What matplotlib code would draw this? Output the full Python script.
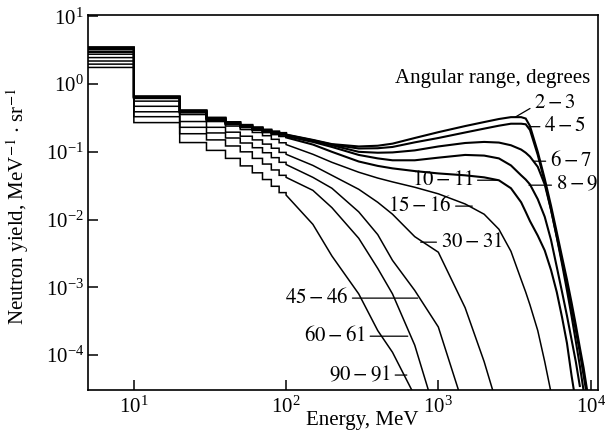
import numpy as np
import matplotlib
matplotlib.use("Agg")
import matplotlib.pyplot as plt
from matplotlib.ticker import NullLocator

plt.rcParams["font.family"] = ["Liberation Serif", "DejaVu Serif"]
plt.rcParams["mathtext.fontset"] = "stix"
plt.rcParams["font.size"] = 15

# угловые диапазоны, градусы
angles = ["2-3", "4-5", "6-7", "8-9", "10-11", "15-16", "30-31", "45-46", "60-61", "90-91"]

# низкие энергии: гистограмма с бинами по 10 МэВ
bin_edges = [4, 10, 20, 30, 40, 50, 60, 70, 80, 90, 100]
low_2_3 = [3.5, 0.66, 0.41, 0.32, 0.275, 0.25, 0.23, 0.213, 0.2, 0.19]
low_4_5 = [3.45, 0.65, 0.405, 0.315, 0.272, 0.246, 0.227, 0.21, 0.197, 0.187]
low_6_7 = [3.35, 0.645, 0.4, 0.31, 0.268, 0.243, 0.224, 0.207, 0.194, 0.184]
low_8_9 = [3.24, 0.635, 0.39, 0.305, 0.262, 0.238, 0.218, 0.202, 0.189, 0.179]
low_10_11 = [2.98, 0.62, 0.38, 0.295, 0.255, 0.23, 0.21, 0.194, 0.181, 0.17]
low_15_16 = [2.76, 0.56, 0.355, 0.28, 0.24, 0.213, 0.193, 0.173, 0.153, 0.136]
low_30_31 = [2.46, 0.47, 0.28, 0.23, 0.195, 0.17, 0.15, 0.13, 0.113, 0.098]
low_45_46 = [2.19, 0.39, 0.23, 0.19, 0.16, 0.135, 0.115, 0.097, 0.082, 0.07]
low_60_61 = [1.97, 0.33, 0.185, 0.15, 0.122, 0.1, 0.08, 0.066, 0.054, 0.045]
low_90_91 = [1.76, 0.27, 0.137, 0.105, 0.08, 0.062, 0.049, 0.039, 0.031, 0.025]

# высокие энергии, МэВ
nan = np.nan
tail_energy = [100, 150, 200, 300, 400, 500, 700, 1000, 1500, 2000, 2500, 3000, 3500,
               3750, 4000, 4500, 5000, 5500, 6000, 6500, 7000, 7500, 8000, 8500, 9000, 9500]
tail_2_3 = [0.18, 0.15, 0.13, 0.12, 0.123, 0.132, 0.16, 0.195, 0.24, 0.275, 0.305, 0.325, 0.325,
            0.31, 0.24, 0.1, 0.04, 0.016, 0.0065, 0.0028, 0.0013, 6e-4, 2.8e-4, 1.3e-4, 6.5e-5, 3e-5]
tail_4_5 = [0.178, 0.148, 0.128, 0.112, 0.113, 0.118, 0.138, 0.16, 0.193, 0.22, 0.243, 0.26, 0.26,
            0.255, 0.21, 0.09, 0.036, 0.014, 0.0056, 0.0024, 0.0011, 5e-4, 2.3e-4, 1.1e-4, 5e-5, 2.4e-5]
tail_6_7 = [0.175, 0.145, 0.125, 0.1, 0.097, 0.098, 0.105, 0.12, 0.135, 0.14, 0.137, 0.125, 0.108,
            0.097, 0.085, 0.06, 0.033, 0.014, 0.0055, 0.0022, 9e-4, 3.8e-4, 1.6e-4, 7e-5, 3e-5, nan]
tail_8_9 = [0.17, 0.14, 0.118, 0.09, 0.08, 0.075, 0.075, 0.082, 0.09, 0.088, 0.08, 0.063, 0.045,
            0.039, 0.033, 0.02, 0.011, 0.005, 0.002, 8.5e-4, 3.8e-4, 1.7e-4, 8e-5, 3.5e-5, nan, nan]
tail_10_11 = [0.163, 0.128, 0.1, 0.072, 0.062, 0.057, 0.052, 0.048, 0.045, 0.042, 0.038, 0.029, 0.018,
              0.013, 0.0095, 0.0058, 0.0035, 0.0018, 8.5e-4, 3.6e-4, 1.5e-4, 5e-5, 2e-5, nan, nan, nan]
tail_15_16 = [0.128, 0.092, 0.07, 0.05, 0.041, 0.036, 0.03, 0.024, 0.017, 0.012, 0.0072, 0.0034, 0.0013,
              8.5e-4, 5.5e-4, 2.3e-4, 8e-5, 2.8e-5, nan, nan, nan, nan, nan, nan, nan, nan]
tail_30_31 = [0.092, 0.063, 0.045, 0.028, 0.018, 0.012, 0.0056, 0.0033, 5e-4, 8e-5, 1.5e-5, nan, nan,
              nan, nan, nan, nan, nan, nan, nan, nan, nan, nan, nan, nan, nan]
tail_45_46 = [0.065, 0.042, 0.029, 0.013, 0.006, 0.0025, 9e-4, 2.6e-4, 1.5e-5, nan, nan, nan, nan,
              nan, nan, nan, nan, nan, nan, nan, nan, nan, nan, nan, nan, nan]
tail_60_61 = [0.042, 0.027, 0.015, 0.0053, 0.0019, 8e-4, 1.4e-4, 1e-5, nan, nan, nan, nan, nan,
              nan, nan, nan, nan, nan, nan, nan, nan, nan, nan, nan, nan, nan]
tail_90_91 = [0.023, 0.0085, 0.0029, 8e-4, 2.3e-4, 1.1e-4, 2.5e-5, nan, nan, nan, nan, nan, nan,
              nan, nan, nan, nan, nan, nan, nan, nan, nan, nan, nan, nan, nan]

low_parts = [low_2_3, low_4_5, low_6_7, low_8_9, low_10_11,
             low_15_16, low_30_31, low_45_46, low_60_61, low_90_91]
tail_parts = [tail_2_3, tail_4_5, tail_6_7, tail_8_9, tail_10_11,
              tail_15_16, tail_30_31, tail_45_46, tail_60_61, tail_90_91]

fig = plt.figure(figsize=(6.05, 4.41), dpi=100)
ax = fig.add_axes([0.1455, 0.1156, 0.843, 0.850])

for i, (low, tail) in enumerate(zip(low_parts, tail_parts)):
    # ступеньки + хвост одной линией
    xs = np.concatenate([np.repeat(bin_edges, 2)[1:-1], tail_energy])
    ys = np.concatenate([np.repeat(low, 2), tail])
    lw = 1.5 if i < 5 else 1.1
    ax.plot(xs, ys, color="black", lw=lw, solid_joinstyle="miter")

ax.set_xscale("log")
ax.set_yscale("log")
ax.set_xlim(5, 11200)
ax.set_ylim(3.05e-5, 10.4)
ax.set_xticks([10, 100, 1000, 10000])
ax.set_yticks([1e-4, 1e-3, 1e-2, 1e-1, 1, 10])
ax.xaxis.set_minor_locator(NullLocator())
ax.yaxis.set_minor_locator(NullLocator())
ax.tick_params(direction="in", length=7, width=1.1, top=False, right=False)
ax.tick_params(axis="x", pad=5)
ax.tick_params(axis="y", pad=3)
for sp in ax.spines.values():
    sp.set_linewidth(1.2)

ax.set_xlabel("Energy, MeV")
ax.xaxis.set_label_coords(0.537, -0.055)
ax.set_ylabel("Neutron yield, MeV$^{-1}$ $\\cdot$ sr$^{-1}$")
ax.yaxis.set_label_coords(-0.112, 0.49)

ax.text(519, 1.22, "Angular range, degrees", ha="left", va="center")

# подписи кривых: (текст, точка на кривой, положение текста, выравнивание)
labels = [
    ("$2-3$", (3190, 0.324), (4250, 0.52), "left"),
    ("$4-5$", (3940, 0.235), (4950, 0.235), "left"),
    ("$6-7$", (4250, 0.0727), (5400, 0.0727), "left"),
    ("$8-9$", (3940, 0.0322), (5900, 0.0322), "left"),
    ("$10-11$", (2440, 0.0381), (1700, 0.0381), "right"),
    ("$15-16$", (1672, 0.0158), (1220, 0.0158), "right"),
    ("$30-31$", (766, 0.00464), (1035, 0.00464), "left"),
    ("$45-46$", (733, 6.93e-4), (256, 6.93e-4), "right"),
    ("$60-61$", (630, 1.9e-4), (335, 1.9e-4), "right"),
    ("$90-91$", (621, 5.07e-5), (489, 5.07e-5), "right"),
]
for text, xy, xytext, ha in labels:
    rel = (0, 0.5) if ha == "left" else (1, 0.5)
    if text == "$2-3$":
        rel = (0, 0.35)
    ax.annotate(text, xy=xy, xytext=xytext, ha=ha, va="center",
                arrowprops=dict(arrowstyle="-", lw=0.9, color="black",
                                shrinkA=1, shrinkB=0, relpos=rel))

fig.savefig("out.png", dpi=100)
